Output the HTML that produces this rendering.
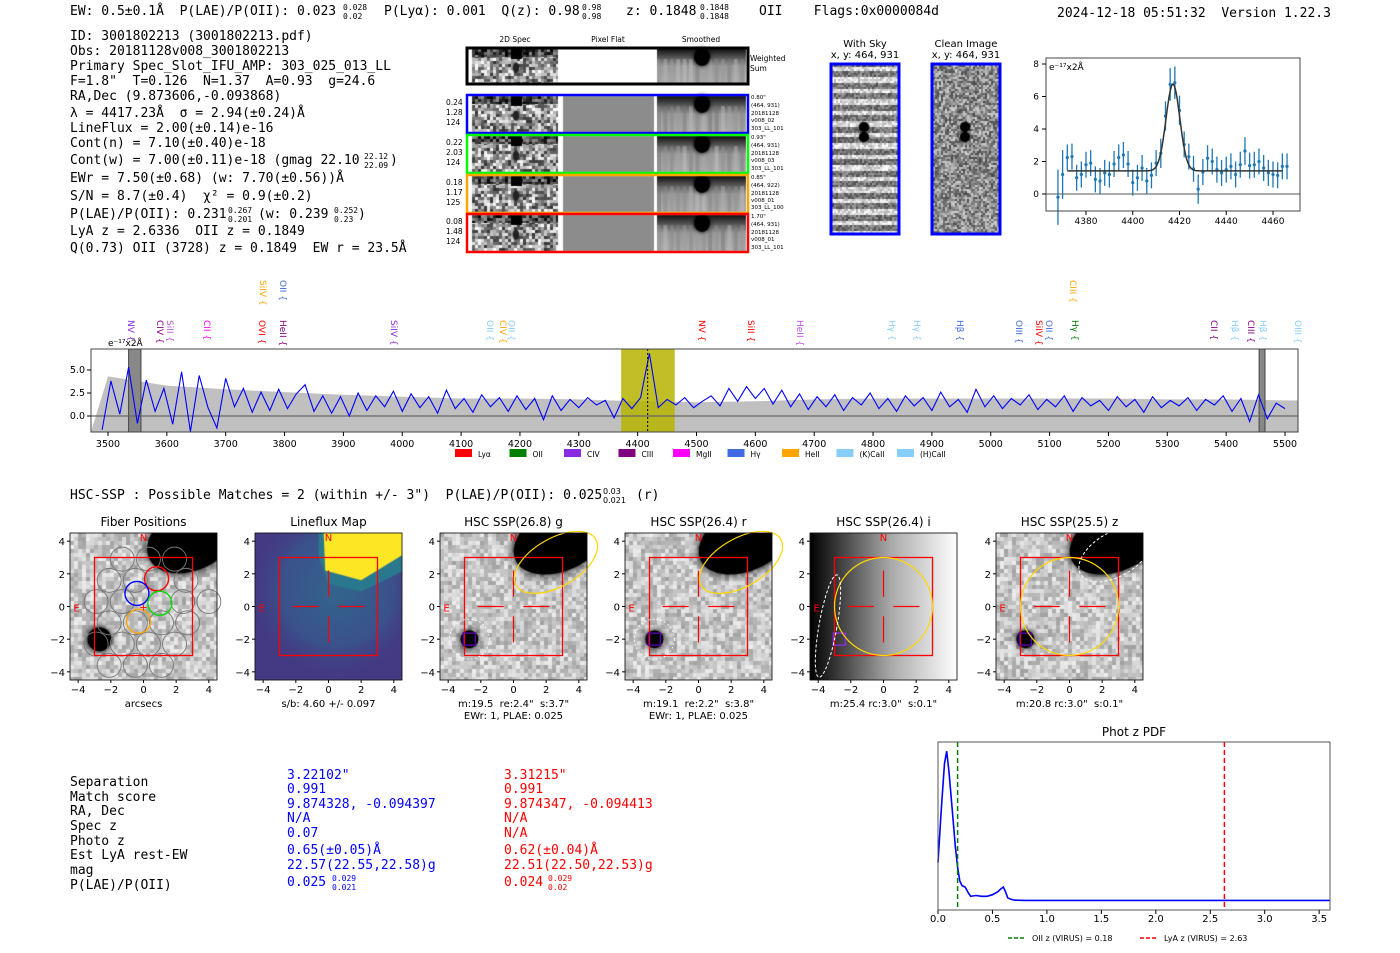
<!DOCTYPE html>
<html><head><meta charset="utf-8">
<style>
body{margin:0;width:1400px;height:953px;position:relative;background:#fff;overflow:hidden}
#cv,#sv{position:absolute;left:0;top:0}
text{white-space:pre}
.m{font-family:"DejaVu Sans Mono","Liberation Mono",monospace;font-size:13px;fill:#000}
.s{font-family:"DejaVu Sans","Liberation Sans",sans-serif;fill:#000}
</style></head>
<body>
<canvas id="cv" width="1400" height="953"></canvas>
<svg id="sv" width="1400" height="953" xmlns="http://www.w3.org/2000/svg" xml:space="preserve">
<g class="m">
<text x="70" y="15">EW: 0.5±0.1Å  P(LAE)/P(OII): 0.023</text>
<text x="343" y="10" font-size="8">0.028</text><text x="343" y="19" font-size="8">0.02</text>
<text x="384" y="15">P(Lyα): 0.001  Q(z): 0.98</text>
<text x="582" y="10" font-size="8">0.98</text><text x="582" y="19" font-size="8">0.98</text>
<text x="626" y="15">z: 0.1848</text>
<text x="700" y="10" font-size="8">0.1848</text><text x="700" y="19" font-size="8">0.1848</text>
<text x="759" y="15">OII    Flags:0x0000084d</text>
<text x="1057" y="17">2024-12-18 05:51:32  Version 1.22.3</text>
</g>
<g class="m">
<text x="70" y="40">ID: 3001802213 (3001802213.pdf)</text>
<text x="70" y="55">Obs: 20181128v008_3001802213</text>
<text x="70" y="70">Primary Spec_Slot_IFU_AMP: 303_025_013_LL</text>
<text x="70" y="85">F=1.8"  T=0.126  N=1.37  A=0.93  g=24.6</text>
<text x="70" y="100">RA,Dec (9.873606,-0.093868)</text>
<text x="70" y="117">λ = 4417.23Å  σ = 2.94(±0.24)Å</text>
<text x="70" y="132">LineFlux = 2.00(±0.14)e-16</text>
<text x="70" y="147">Cont(n) = 7.10(±0.40)e-18</text>
<text x="70" y="164">Cont(w) = 7.00(±0.11)e-18 (gmag 22.10</text>
<text x="364" y="159" font-size="8">22.12</text><text x="364" y="168" font-size="8">22.09</text><text x="390" y="164">)</text>
<text x="70" y="182">EWr = 7.50(±0.68) (w: 7.70(±0.56))Å</text>
<text x="70" y="200">S/N = 8.7(±0.4)  χ² = 0.9(±0.2)</text>
<text x="70" y="218">P(LAE)/P(OII): 0.231</text>
<text x="228" y="213" font-size="8">0.267</text><text x="228" y="222" font-size="8">0.201</text>
<text x="258" y="218">(w: 0.239</text><text x="334" y="213" font-size="8">0.252</text><text x="334" y="222" font-size="8">0.23</text><text x="358" y="218">)</text>
<text x="70" y="235">LyA z = 2.6336  OII z = 0.1849</text>
<text x="70" y="252">Q(0.73) OII (3728) z = 0.1849  EW r = 23.5Å</text>
</g>
<g class="s" font-size="7.5">
<text x="515" y="42" text-anchor="middle">2D Spec</text>
<text x="608" y="42" text-anchor="middle">Pixel Flat</text>
<text x="701" y="42" text-anchor="middle">Smoothed</text>
<text x="750" y="61">Weighted</text><text x="750" y="71">Sum</text>
<text x="446" y="105">0.24</text><text x="446" y="115">1.28</text><text x="446" y="125">124</text>
<text x="446" y="145">0.22</text><text x="446" y="155">2.03</text><text x="446" y="165">124</text>
<text x="446" y="185">0.18</text><text x="446" y="195">1.17</text><text x="446" y="205">125</text>
<text x="446" y="224">0.08</text><text x="446" y="234">1.48</text><text x="446" y="244">124</text>
<g font-size="5.5">
<text x="751" y="99">0.80"</text><text x="751" y="107">(464, 931)</text><text x="751" y="115">20181128</text><text x="751" y="122">v008_02</text><text x="751" y="130">303_LL_101</text>
<text x="751" y="139">0.93"</text><text x="751" y="147">(464, 931)</text><text x="751" y="155">20181128</text><text x="751" y="162">v008_03</text><text x="751" y="170">303_LL_101</text>
<text x="751" y="179">0.85"</text><text x="751" y="187">(464, 922)</text><text x="751" y="195">20181128</text><text x="751" y="202">v008_01</text><text x="751" y="209">303_LL_100</text>
<text x="751" y="218">1.70"</text><text x="751" y="226">(464, 931)</text><text x="751" y="234">20181128</text><text x="751" y="241">v008_01</text><text x="751" y="249">303_LL_101</text>
</g></g>
<g class="s" font-size="10" text-anchor="middle">
<text x="865" y="47">With Sky</text><text x="865" y="58">x, y: 464, 931</text>
<text x="966" y="47">Clean Image</text><text x="966" y="58">x, y: 464, 931</text>
</g>
<text x="70" y="499" class="m">HSC-SSP : Possible Matches = 2 (within +/- 3")  P(LAE)/P(OII): 0.025</text>
<text x="603" y="494" class="s" font-size="8">0.03</text>
<text x="603" y="503" class="s" font-size="8">0.021</text>
<text x="636" y="499" class="m">(r)</text>
<g class="m">
<text x="70" y="786">Separation</text><text x="70" y="801">Match score</text><text x="70" y="815">RA, Dec</text><text x="70" y="830">Spec z</text><text x="70" y="845">Photo z</text><text x="70" y="859">Est LyA rest-EW</text><text x="70" y="874">mag</text><text x="70" y="889">P(LAE)/P(OII)</text>
<text x="287" y="779" style="fill:#0000ff">3.22102"</text><text x="287" y="793" style="fill:#0000ff">0.991</text><text x="287" y="808" style="fill:#0000ff">9.874328, -0.094397</text><text x="287" y="822" style="fill:#0000ff">N/A</text><text x="287" y="837" style="fill:#0000ff">0.07</text><text x="287" y="854" style="fill:#0000ff">0.65(±0.05)Å</text><text x="287" y="869" style="fill:#0000ff">22.57(22.55,22.58)g</text><text x="287" y="886" style="fill:#0000ff">0.025</text><text x="332" y="881" font-size="8" style="fill:#0000ff">0.029</text><text x="332" y="890" font-size="8" style="fill:#0000ff">0.021</text>
<text x="504" y="779" style="fill:#ff0000">3.31215"</text><text x="504" y="793" style="fill:#ff0000">0.991</text><text x="504" y="808" style="fill:#ff0000">9.874347, -0.094413</text><text x="504" y="822" style="fill:#ff0000">N/A</text><text x="504" y="837" style="fill:#ff0000">N/A</text><text x="504" y="854" style="fill:#ff0000">0.62(±0.04)Å</text><text x="504" y="869" style="fill:#ff0000">22.51(22.50,22.53)g</text><text x="504" y="886" style="fill:#ff0000">0.024</text><text x="548" y="881" font-size="8" style="fill:#ff0000">0.029</text><text x="548" y="890" font-size="8" style="fill:#ff0000">0.02</text>
</g>
</svg>
<script>
// ===== DATA =====
const specStart = 3490, specStep = 15;
const specFlux = [-1.5,3.8,0.2,5.3,-0.8,3.9,0.5,3.0,-0.9,4.8,-1.7,4.4,0.9,-1.3,4.1,1.0,3.0,0.4,2.6,0.6,2.9,0.8,2.4,3.4,0.5,2.2,0.3,2.1,0.0,2.5,0.6,2.2,1.0,2.7,0.5,2.4,0.9,2.1,0.3,2.8,0.8,1.9,0.4,2.3,1.0,2.0,0.5,2.2,0.7,1.9,-0.4,2.2,0.6,1.8,0.9,2.0,1.2,1.7,-0.2,1.9,0.8,2.0,6.8,0.9,1.8,1.2,2.0,0.9,1.6,2.2,1.1,3.0,1.6,3.2,1.9,3.0,1.3,2.8,1.0,2.4,0.7,2.1,1.0,2.3,0.6,2.0,1.2,2.5,0.8,1.9,0.5,2.2,1.1,2.0,0.6,2.6,1.0,1.8,0.4,2.9,1.0,2.2,0.8,1.9,1.2,2.3,0.7,1.8,1.0,2.2,0.5,2.0,1.1,1.7,0.6,2.1,1.0,1.8,0.4,2.1,0.9,1.7,1.1,2.0,0.6,1.8,1.2,2.2,0.5,1.9,-0.6,2.3,-0.3,1.4,0.8];
const errWl = [3500,3600,3700,3800,3900,4000,4100,4200,4300,4400,4500,4600,4700,4800,4900,5000,5100,5200,5300,5400,5500];
const errHi = [4.3,3.3,2.9,2.6,2.3,2.1,1.9,1.9,1.8,1.6,1.5,1.6,1.8,1.9,1.9,1.9,1.9,1.9,1.8,1.8,1.7];
const specTicks = [3500,3600,3700,3800,3900,4000,4100,4200,4300,4400,4500,4600,4700,4800,4900,5000,5100,5200,5300,5400,5500];
const specYTicks = [0.0,2.5,5.0];
const lineNames = ["NV","CIV","SiII","CII","OVI","HeII","SiIV","OII","CIV","OII","NV","SiII","HeII","Hγ","Hγ","Hβ","OIII","SiIV","OII","Hγ","CII","Hβ","CIII","Hβ","OIII","SiIV","OII","CIII"];
const lineWl = [3539,3588,3605,3668,3762,3797,3986,4149,4171,4186,4509,4593,4676,4832,4875,4948,5048,5082,5099,5143,5379,5415,5442,5463,5522,3763,3797,5140];
const lineRow = [2,2,2,2,2,2,2,2,2,2,2,2,2,2,2,2,2,2,2,2,2,2,2,2,2,1,1,1];
const lineCol = ["#8a2be2","#800080","#ba55d3","#ff00ff","#ff0000","#800080","#8a2be2","#87cefa","#ffa500","#87cefa","#ff0000","#ff0000","#ba55d3","#87cefa","#87cefa","#4169e1","#4169e1","#ff0000","#4169e1","#008000","#800080","#87cefa","#800080","#87cefa","#87cefa","#ffa500","#4169e1","#ffa500"];
const legNames = ["Lyα","OII","CIV","CIII","MgII","Hγ","HeII","(K)CaII","(H)CaII"];
const legCols = ["#ff0000","#008000","#8a2be2","#800080","#ff00ff","#4169e1","#ffa500","#87cefa","#87cefa"];
const fitWl = [4368,4370,4372,4374,4376,4378,4380,4382,4384,4386,4388,4390,4392,4394,4396,4398,4400,4402,4404,4406,4408,4410,4412,4414,4416,4418,4420,4422,4424,4426,4428,4430,4432,4434,4436,4438,4440,4442,4444,4446,4448,4450,4452,4454,4456,4458,4460,4462,4464,4466];
const fitFlux = [-0.2,1.2,2.25,2.3,1.0,1.2,1.8,1.9,0.9,0.8,1.3,1.2,1.85,2.25,2.4,1.85,0.7,1.0,1.6,0.8,1.15,1.9,2.5,4.8,6.75,6.85,5.15,3.05,2.3,1.55,0.3,1.35,2.2,2.0,1.5,1.3,1.5,1.7,1.2,1.8,2.65,1.75,1.8,2.0,1.6,1.3,1.2,1.15,1.7,1.7];
const fitErr = [1.7,1.5,0.8,0.8,0.8,0.8,0.8,0.8,0.8,0.8,0.8,0.8,0.8,0.8,0.8,0.8,0.8,0.8,0.8,0.8,0.8,0.8,0.9,0.9,1.0,1.0,0.9,0.8,0.8,0.8,0.9,0.8,0.8,0.8,0.8,0.8,0.8,0.8,0.8,0.8,0.85,0.8,0.8,0.8,0.8,0.8,0.8,0.8,0.8,0.8];
const fitCont = 1.42, fitAmp = 5.35, fitMu = 4417.2, fitSig = 2.94;
const fitXTicks = [4380,4400,4420,4440,4460];
const fitYTicks = [0,2,4,6,8];
const pdfZ = [0,0.03,0.06,0.08,0.1,0.13,0.16,0.18,0.2,0.22,0.25,0.28,0.3,0.35,0.4,0.45,0.5,0.55,0.58,0.6,0.62,0.64,0.67,0.7,0.8,1.0,3.6];
const pdfP = [0.25,0.6,0.9,0.98,0.85,0.6,0.35,0.22,0.13,0.1,0.09,0.05,0.03,0.035,0.03,0.03,0.04,0.06,0.08,0.09,0.06,0.02,0.01,0.005,0.003,0.003,0.003];
const pdfTicks = [0.0,0.5,1.0,1.5,2.0,2.5,3.0,3.5];
const oiiZ = 0.18, lyaZ = 2.63;
const imgTicks = [-4,-2,0,2,4];

const NS = "http://www.w3.org/2000/svg";
const sv = document.getElementById('sv');
function mk(tag, attrs, name, parent){
  const el = document.createElementNS(NS, tag);
  for (const k in attrs) el.setAttribute(k, attrs[k]);
  
  
  (parent || sv).appendChild(el);
  return el;
}
function txt(x,y,s,size,name,extra,parent){
  const t = mk('text', Object.assign({x:x,y:y,'font-size':size,'class':'s'}, extra||{}), name, parent);
  t.textContent = s; return t;
}

// ===== CANVAS TEXTURES =====
const cv = document.getElementById('cv'), c = cv.getContext('2d');
let seed = 12345;
function rnd(){ seed = (seed*1103515245+12345) & 0x7fffffff; return seed/0x7fffffff; }
function noise(x,y,w,h,cell,base,amp){
  for(let j=0;j<h;j+=cell) for(let i=0;i<w;i+=cell){
    const g = Math.max(0,Math.min(255,Math.round(255*(base+(rnd()-0.5)*amp))));
    c.fillStyle = `rgb(${g},${g},${g})`;
    c.fillRect(x+i,y+j,Math.min(cell,w-i),Math.min(cell,h-j));
  }
}
function blob(cx,cy,rx,ry,rot,col,blur){
  c.save(); c.shadowColor=col; c.shadowBlur=blur; c.fillStyle=col;
  c.beginPath(); c.ellipse(cx,cy,rx,ry,rot,0,Math.PI*2); c.fill(); c.restore();
}
function spec2d(y,h){
  noise(472,y,86,h,3,0.6,0.8);
  noise(472,y,86,8,3,0.3,0.6);
  c.fillStyle='#000'; c.fillRect(511,y,11,10);
  blob(516,y+h*0.55,3,5,0,'#222',3);
}
function smooth(y,h){
  const g = c.createLinearGradient(0,y,0,y+h);
  g.addColorStop(0,'#111'); g.addColorStop(0.25,'#555'); g.addColorStop(0.5,'#999'); g.addColorStop(1,'#aaa');
  c.fillStyle=g; c.fillRect(657,y,89,h);
  for(let i=0;i<14;i++){ const gg=110+Math.round(rnd()*90); c.fillStyle=`rgba(${gg},${gg},${gg},0.45)`; c.fillRect(657+i*6.4,y+10,4,h-10); }
  blob(702,y+8,8,9,0,'#000',4);
}
spec2d(49,34); smooth(49,34);
const rowsY=[96,136,176,215];
rowsY.forEach(y=>{ spec2d(y,36); c.fillStyle='#8c8c8c'; c.fillRect(563,y,91,36); smooth(y,36); });
for(let j=0;j<168;j+=2){ const band=Math.sin(j/11*Math.PI*2)>0?0.85:0.45; for(let i=0;i<66;i+=2){ const g=Math.round(255*Math.max(0,Math.min(1,band+(rnd()-0.5)*0.35))); c.fillStyle=`rgb(${g},${g},${g})`; c.fillRect(832+i,65+j,2,2);} }
blob(864,127,5,5,0,'#000',2); blob(864,137,5,5,0,'#000',2);
noise(933,65,66,168,2,0.55,0.55);
blob(965,127,5,5,0,'#000',2); blob(965,137,5,5,0,'#000',2);
const panelL=[70,255,440,625,810,996], PT=533, PS=147, U=PS/9;
function clipP(L){ c.save(); c.beginPath(); c.rect(L,PT,PS,PS); c.clip(); }
function P(L,u,v){ return [L+PS/2+u*U, PT+PS/2-v*U]; }
[0,2,3,5].forEach(k=>{
  const L=panelL[k]; clipP(L);
  noise(L,PT,PS,PS,4,0.78,0.3);
  let b=P(L,3.0,4.2); blob(b[0],b[1],k==0?48:52,32,-0.45,'#000',10);
  b=P(L,-2.7,-2.0); blob(b[0],b[1],k==0?12:9,k==0?12:9,0,'#000',9);
  c.restore();
});
{
  const L=panelL[1]; clipP(L);
  c.fillStyle='#443a83'; c.fillRect(L,PT,PS,PS);
  const g=c.createRadialGradient(...P(L,0.5,1),5,...P(L,0.5,1),90);
  g.addColorStop(0,'#33638d'); g.addColorStop(0.6,'#3b528b'); g.addColorStop(1,'rgba(68,57,131,0)');
  c.fillStyle=g; c.fillRect(L,PT,PS,PS);
  c.fillStyle='#2a788e'; c.beginPath();
  [[ -0.6,4.6],[4.6,4.6],[4.6,2.2],[2.0,0.9],[0.0,1.4],[-0.6,3.0]].forEach((p,i)=>{const q=P(L,p[0],p[1]); i?c.lineTo(q[0],q[1]):c.moveTo(q[0],q[1]);}); c.fill();
  c.fillStyle='#fde725'; c.beginPath();
  [[-0.3,4.6],[4.6,4.6],[4.6,3.2],[2.0,1.6],[-0.2,2.2]].forEach((p,i)=>{const q=P(L,p[0],p[1]); i?c.lineTo(q[0],q[1]):c.moveTo(q[0],q[1]);}); c.fill();
  c.restore();
}
{
  const L=panelL[4]; const g=c.createLinearGradient(L,0,L+PS,0);
  g.addColorStop(0,'#000'); g.addColorStop(0.55,'#aaa'); g.addColorStop(1,'#fff');
  c.fillStyle=g; c.fillRect(L,PT,PS,PS);
}

// ===== 2D spec frames =====
mk('rect',{x:467,y:48,width:281,height:36,fill:'none',stroke:'#000','stroke-width':3},'weighted-sum-frame');
const frameCols=['#0000ff','#00ff00','#ffa500','#ff0000'];
rowsY.forEach((y,i)=>{
  mk('rect',{x:467,y:y-1,width:281,height:38,fill:'none',stroke:frameCols[i],'stroke-width':2.5},'exposure-frame');
});
mk('rect',{x:831,y:64,width:68,height:170,fill:'none',stroke:'#0000ff','stroke-width':3},'with-sky-frame');
mk('rect',{x:932,y:64,width:68,height:170,fill:'none',stroke:'#0000ff','stroke-width':3},'clean-image-frame');

// ===== FIT PLOT =====
const fg = mk('g',{},'line-fit-plot');
const fx = w => 1086+(w-4380)*2.3375, fy = f => 194-f*16.25;
mk('line',{x1:1046,x2:1300,y1:fy(0),y2:fy(0),stroke:'#555','stroke-width':1},'fit-zero-line',fg);
fitWl.forEach((w,i)=>{
  mk('line',{x1:fx(w),x2:fx(w),y1:fy(fitFlux[i]-fitErr[i]),y2:fy(fitFlux[i]+fitErr[i]),stroke:'#1f77b4','stroke-width':1.3},'fit-errorbar',fg);
  mk('circle',{cx:fx(w),cy:fy(fitFlux[i]),r:1.6,fill:'#1f77b4'},'fit-point',fg);
});
let fd='';
for(let w=4372;w<=4464;w+=0.5){ const f=fitCont+fitAmp*Math.exp(-0.5*((w-fitMu)/fitSig)**2); fd+=(fd?'L':'M')+fx(w).toFixed(1)+','+fy(f).toFixed(1); }
mk('path',{d:fd,fill:'none',stroke:'#333','stroke-width':1.5},'fit-model-curve',fg);
mk('rect',{x:1046,y:58,width:254,height:153,fill:'none',stroke:'#444','stroke-width':1},'fit-axes-frame',fg);
fitXTicks.forEach(t=>{ mk('line',{x1:fx(t),x2:fx(t),y1:211,y2:215,stroke:'#000'},'fit-x-tick',fg); txt(fx(t),224,String(t),9,'fit-x-tick-label',{'text-anchor':'middle'},fg); });
fitYTicks.forEach(t=>{ mk('line',{x1:1042,x2:1046,y1:fy(t),y2:fy(t),stroke:'#000'},'fit-y-tick',fg); txt(1039,fy(t)+3,String(t),9,'fit-y-tick-label',{'text-anchor':'end'},fg); });
txt(1049,70,'e⁻¹⁷x2Å',9,'fit-units-label',{},fg);

// ===== SPECTRUM =====
const sg = mk('g',{},'full-spectrum-plot');
const sx = w => 108+(w-3500)*0.5885, sy = f => 416-f*9.2;
let ed='M'+sx(3471)+',432';
errWl.forEach((w,i)=>{ ed+='L'+sx(w).toFixed(1)+','+sy(errHi[i]).toFixed(1); });
ed+='L'+sx(5522)+','+sy(errHi[errHi.length-1])+'L'+sx(5522)+',432Z';
mk('path',{d:ed,fill:'#c0c0c0'},'error-band',sg);
mk('rect',{x:sx(4372),y:349,width:sx(4463)-sx(4372),height:83,fill:'#b5b500','fill-opacity':0.85},'line-window-highlight',sg);
mk('rect',{x:sx(3535),y:349,width:sx(3556)-sx(3535),height:83,fill:'#888','stroke':'#444'},'masked-region',sg);
mk('rect',{x:sx(5456),y:349,width:sx(5466)-sx(5456),height:83,fill:'#888','stroke':'#444'},'masked-region',sg);
mk('line',{x1:91,x2:1298,y1:sy(0),y2:sy(0),stroke:'#666','stroke-width':1.2},'spectrum-zero-line',sg);
let sd='';
specFlux.forEach((f,i)=>{ const w=specStart+i*specStep; sd+=(i?'L':'M')+sx(w).toFixed(1)+','+Math.min(432,Math.max(349,sy(f))).toFixed(1); });
mk('path',{d:sd,fill:'none',stroke:'#0000ff','stroke-width':1.1},'spectrum-line',sg);
mk('line',{x1:sx(4417),x2:sx(4417),y1:349,y2:432,stroke:'#000','stroke-dasharray':'2,2'},'line-center-marker',sg);
mk('rect',{x:91,y:349,width:1207,height:83,fill:'none',stroke:'#444'},'spectrum-axes-frame',sg);
specTicks.forEach(t=>{ mk('line',{x1:sx(t),x2:sx(t),y1:432,y2:436,stroke:'#000'},'spectrum-x-tick',sg); txt(sx(t),447,String(t),9.5,'spectrum-x-tick-label',{'text-anchor':'middle'},sg); });
specYTicks.forEach(t=>{ mk('line',{x1:87,x2:91,y1:sy(t),y2:sy(t),stroke:'#000'},'spectrum-y-tick',sg); txt(85,sy(t)+3,t.toFixed(1),9.5,'spectrum-y-tick-label',{'text-anchor':'end'},sg); });
txt(108,346,'e⁻¹⁷x2Å',9,'spectrum-units-label',{},sg);
lineNames.forEach((n,i)=>{
  const x=sx(lineWl[i])-3, y=lineRow[i]==1?280:320;
  txt(x,y,n+' {',9,'emission-line-label',{transform:`rotate(90 ${x} ${y})`,style:'fill:'+lineCol[i]},sg);
});
legNames.forEach((n,i)=>{
  const x=455+i*54.5+(i>7?6:0);
  mk('rect',{x:x,y:449,width:17,height:8,fill:legCols[i]},'legend-swatch',sg);
  txt(x+23,457,n,7.5,'legend-entry',{},sg);
});

// ===== IMAGE PANELS =====
const titles=['Fiber Positions','Lineflux Map','HSC SSP(26.8) g','HSC SSP(26.4) r','HSC SSP(26.4) i','HSC SSP(25.5) z'];
const sub1=['arcsecs','s/b: 4.60 +/- 0.097','m:19.5  re:2.4"  s:3.7"','m:19.1  re:2.2"  s:3.8"','m:25.4 rc:3.0"  s:0.1"','m:20.8 rc:3.0"  s:0.1"'];
const sub2=['','','EWr: 1, PLAE: 0.025','EWr: 1, PLAE: 0.025','',''];
panelL.forEach((L,k)=>{
  const g = mk('g',{},'cutout-panel',sv);
  const Q=(u,v)=>P(L,u,v);
  txt(L+PS/2,526,titles[k],12,'panel-title',{'text-anchor':'middle'},g);
  if(k==0){
    const hx=[[-1.3,2.9],[0.3,2.9],[1.9,2.9],[-2.1,1.6],[-0.5,1.6],[2.6,1.6],[-2.9,0.3],[-1.3,0.3],[2.4,0.3],[4.0,0.3],[-2.1,-1.0],[-0.5,-1.0],[1.1,-1.0],[2.7,-1.0],[-2.9,-2.3],[-1.3,-2.3],[0.3,-2.3],[1.9,-2.3],[-0.5,-3.6],[1.1,-3.6],[-2.1,-3.6]];
    hx.forEach(h=>{ const q=Q(h[0],h[1]); mk('circle',{cx:q[0],cy:q[1],r:12,fill:'none',stroke:'#777','stroke-width':0.9},'fiber-circle',g); });
    [[0.8,1.7,'#ff0000'],[-0.4,0.8,'#0000ff'],[1.0,0.2,'#00dd00'],[-0.3,-0.9,'#ffa500']].forEach(h=>{ const q=Q(h[0],h[1]); mk('circle',{cx:q[0],cy:q[1],r:12,fill:'none',stroke:h[2],'stroke-width':1.4},'selected-fiber',g); });
    const q=Q(0,0); txt(q[0],q[1]+4,'+',10,'center-marker',{'text-anchor':'middle',style:'fill:#f00'},g);
  }
  const r0=Q(-3,3); mk('rect',{x:r0[0],y:r0[1],width:6*U,height:6*U,fill:'none',stroke:'#ff0000','stroke-width':1.3},'aperture-box',g);
  if(k>0){
    [[-2.2,0,-0.6,0],[0.6,0,2.2,0],[0,2.2,0,0.6],[0,-0.6,0,-2.2]].forEach(s=>{ const a=Q(s[0],s[1]),b=Q(s[2],s[3]); mk('line',{x1:a[0],y1:a[1],x2:b[0],y2:b[1],stroke:'#ff0000','stroke-width':1.2},'crosshair',g); });
  }
  if(k==2||k==3){
    const e=Q(2.6,2.7); mk('ellipse',{cx:e[0],cy:e[1],rx:46,ry:24,transform:`rotate(-30 ${e[0]} ${e[1]})`,fill:'none',stroke:'#ffd700','stroke-width':1.2},'source-ellipse',g);
    const d=Q(-2.7,-2.0); mk('circle',{cx:d[0],cy:d[1],r:20,fill:'none',stroke:'#fff','stroke-dasharray':'2,2','stroke-width':0.8},'match-ellipse',g);
  }
  if(k>=2){
    const d=Q(-2.7,-2.0); mk('rect',{x:d[0]-6,y:d[1]-6,width:12,height:12,fill:'none',stroke:k==4?'#8a2be2':'#5500aa','stroke-width':1.4},'match-marker',g);
  }
  if(k==4||k==5){
    const cc=Q(0,0); mk('circle',{cx:cc[0],cy:cc[1],r:3*U,fill:'none',stroke:'#ffd700','stroke-width':1.2},'aperture-circle',g);
  }
  if(k==4){ const e=Q(-3.4,-1.2); mk('ellipse',{cx:e[0],cy:e[1],rx:9,ry:52,transform:`rotate(10 ${e[0]} ${e[1]})`,fill:'none',stroke:'#fff','stroke-dasharray':'3,2'},'source-ellipse',g); }
  if(k==5){ const e=Q(2.8,3.2); mk('ellipse',{cx:e[0],cy:e[1],rx:40,ry:22,transform:`rotate(-30 ${e[0]} ${e[1]})`,fill:'none',stroke:'#fff','stroke-dasharray':'3,2'},'source-ellipse',g); }
  const nq=Q(0,4.0); txt(nq[0],nq[1],'N',10,'north-label',{'text-anchor':'middle',style:'fill:#f00'},g);
  const eq=Q(-4.1,-0.3); txt(eq[0],eq[1],'E',10,'east-label',{'text-anchor':'middle',style:'fill:#f00'},g);
  mk('rect',{x:L,y:PT,width:PS,height:PS,fill:'none',stroke:'#000','stroke-width':0.8},'panel-frame',g);
  imgTicks.forEach(t=>{
    const a=Q(t,-4.5); mk('line',{x1:a[0],x2:a[0],y1:PT+PS,y2:PT+PS+3,stroke:'#000'},'x-tick',g);
    txt(a[0],PT+PS+13,(t<0?'−':'')+Math.abs(t),10,'x-tick-label',{'text-anchor':'middle'},g);
    const b=Q(-4.5,t); mk('line',{x1:L-3,x2:L,y1:b[1],y2:b[1],stroke:'#000'},'y-tick',g);
    txt(L-5,b[1]+4,(t<0?'−':'')+Math.abs(t),10,'y-tick-label',{'text-anchor':'end'},g);
  });
  txt(L+PS/2,707,sub1[k],10,'panel-caption',{'text-anchor':'middle'},g);
  if(sub2[k]) txt(L+PS/2,719,sub2[k],10,'panel-caption-2',{'text-anchor':'middle'},g);
});

// ===== PHOT Z PDF =====
const pg = mk('g',{},'photz-pdf-plot');
const px = z => 938+z*108.9, py = p => 742+(1.04-p)/1.1*168;
txt(1134,736,'Phot z PDF',12,'pdf-title',{'text-anchor':'middle'},pg);
let pd='';
pdfZ.forEach((z,i)=>{ pd+=(i?'L':'M')+px(z).toFixed(1)+','+py(pdfP[i]).toFixed(1); });
mk('path',{d:pd,fill:'none',stroke:'#0000ff','stroke-width':1.6},'pdf-curve',pg);
mk('line',{x1:px(oiiZ),x2:px(oiiZ),y1:742,y2:910,stroke:'#008000','stroke-width':1.5,'stroke-dasharray':'5,3'},'oii-z-line',pg);
mk('line',{x1:px(lyaZ),x2:px(lyaZ),y1:742,y2:910,stroke:'#ff0000','stroke-width':1.5,'stroke-dasharray':'5,3'},'lya-z-line',pg);
mk('rect',{x:938,y:742,width:392,height:168,fill:'none',stroke:'#555','stroke-width':1},'pdf-axes-frame',pg);
pdfTicks.forEach(t=>{ mk('line',{x1:px(t),x2:px(t),y1:910,y2:914,stroke:'#000'},'pdf-x-tick',pg); txt(px(t),922,t.toFixed(1),10,'pdf-x-tick-label',{'text-anchor':'middle'},pg); });
mk('line',{x1:1008,x2:1026,y1:938,y2:938,stroke:'#008000','stroke-width':1.5,'stroke-dasharray':'4,2'},'legend-oii-swatch',pg);
txt(1032,941,'OII z (VIRUS) = 0.18',8,'legend-oii',{},pg);
mk('line',{x1:1140,x2:1158,y1:938,y2:938,stroke:'#ff0000','stroke-width':1.5,'stroke-dasharray':'4,2'},'legend-lya-swatch',pg);
txt(1164,941,'LyA z (VIRUS) = 2.63',8,'legend-lya',{},pg);
</script>
</body></html>
